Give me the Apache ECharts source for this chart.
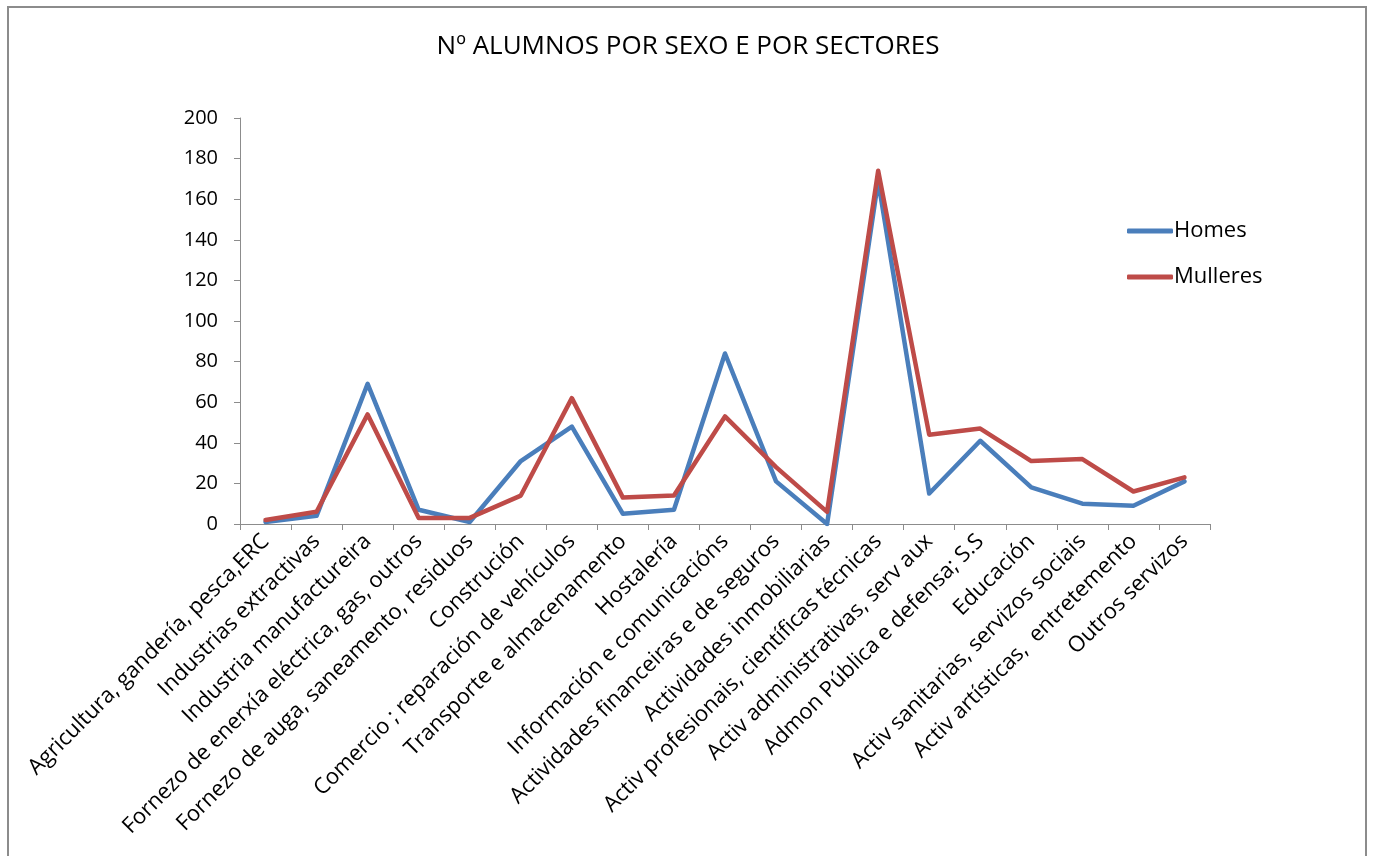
<!DOCTYPE html>
<html>
<head>
<meta charset="utf-8">
<script src="https://cdn.jsdelivr.net/npm/echarts@6/dist/echarts.min.js"></script>
<style>
html,body{margin:0;padding:0;background:#fff;}
#frame{position:absolute;left:7px;top:6px;width:1360px;height:870px;border:2px solid #8c8c8c;box-sizing:border-box;}
#chart{position:absolute;left:0;top:0;width:1376px;height:856px;}
</style>
</head>
<body>
<div id="frame"></div>
<div id="chart"></div>
<script>
const titleText = 'Nº ALUMNOS POR SEXO E POR SECTORES';
const categories = [
  'Agricultura, gandería, pesca,ERC',
  'Industrias extractivas',
  'Industria manufactureira',
  'Fornezo de enerxía eléctrica, gas, outros',
  'Fornezo de auga, saneamento, residuos',
  'Construción',
  'Comercio ; reparación de vehículos',
  'Transporte e almacenamento',
  'Hostalería',
  'Información e comunicacións',
  'Actividades financeiras e de seguros',
  'Actividades inmobiliarias',
  'Activ profesionais, científicas técnicas',
  'Activ administrativas, serv aux',
  'Admon Pública e defensa; S.S',
  'Educación',
  'Activ sanitarias, servizos sociais',
  'Activ artísticas,  entretemento',
  'Outros servizos'
];
const homes    = [1, 4, 69, 7, 1, 31, 48, 5, 7, 84, 21, 0, 169, 15, 41, 18, 10, 9, 21];
const mulleres = [2, 6, 54, 3, 3, 14, 62, 13, 14, 53, 28, 6, 174, 44, 47, 31, 32, 16, 23];
const yTicks = {min: 0, max: 200, interval: 20};

const font = '"Open Sans", "Noto Sans", sans-serif';
const chart = echarts.init(document.getElementById('chart'));
chart.setOption({
  animation: false,
  title: {
    text: titleText, left: 'center', top: 29,
    textStyle: {fontFamily: font, fontSize: 26, fontWeight: 'normal', color: '#000'}
  },
  legend: {
    orient: 'vertical', left: 1122, top: 215, itemGap: 24,
    icon: 'roundRect', itemWidth: 46, itemHeight: 5,
    textStyle: {fontFamily: font, fontSize: 22, color: '#000', padding: [0,0,0,-4]},
    data: ['Homes', 'Mulleres']
  },
  grid: {left: 240, right: 166, top: 118, bottom: 332, containLabel: false},
  xAxis: {
    type: 'category', data: categories, boundaryGap: true,
    axisLine: {lineStyle: {color: '#8c8c8c', width: 1}},
    axisTick: {show: true, length: 6, lineStyle: {color: '#8c8c8c'}},
    axisLabel: {rotate: 45, interval: 0, margin: 14, fontFamily: font, fontSize: 22, color: '#000'}
  },
  yAxis: {
    type: 'value', min: yTicks.min, max: yTicks.max, interval: yTicks.interval,
    axisLine: {show: true, lineStyle: {color: '#8c8c8c', width: 1}},
    axisTick: {show: true, length: 6, lineStyle: {color: '#8c8c8c'}},
    splitLine: {show: false},
    axisLabel: {margin: 22, fontFamily: font, fontSize: 20, color: '#000'}
  },
  series: [
    {name: 'Homes', type: 'line', data: homes, symbol: 'none',
     lineStyle: {color: '#4A7EBB', width: 4.5, cap: 'round', join: 'round'}, itemStyle: {color: '#4A7EBB'}},
    {name: 'Mulleres', type: 'line', data: mulleres, symbol: 'none',
     lineStyle: {color: '#BE4B48', width: 4.5, cap: 'round', join: 'round'}, itemStyle: {color: '#BE4B48'}}
  ]
});
</script>
</body>
</html>
